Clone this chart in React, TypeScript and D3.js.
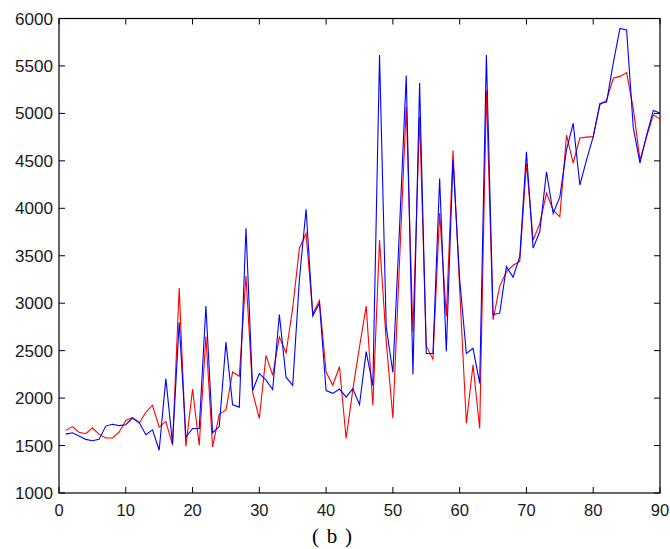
import React from "react";
import * as d3 from "d3";

const xValues: number[] = Array.from({ length: 90 }, (_, i) => i + 1);

const redSeries: number[] = [
  1660, 1700, 1640, 1625, 1685, 1620, 1580, 1580, 1640, 1765,
  1795, 1735, 1850, 1925, 1695, 1755, 1505, 3160, 1490, 2095,
  1500, 2650, 1485, 1830, 1875, 2275, 2230, 3290, 2060, 1785,
  2450, 2240, 2645, 2475, 2950, 3580, 3735, 2890, 3030, 2275,
  2135, 2330, 1575, 2090, 2540, 2970, 1925, 3665, 2600, 1787,
  3450, 5070, 2700, 4965, 2550, 2410, 3950, 2860, 4610, 3150,
  1735, 2350, 1680, 5245, 2825, 3180, 3330, 3400, 3440, 4475,
  3665, 3840, 4160, 3980, 3910, 4770, 4475, 4740, 4750, 4755,
  5090, 5140, 5370, 5390, 5430, 5050, 4510, 4755, 4985, 4940,
];

const blueSeries: number[] = [
  1620, 1635, 1600, 1565, 1550, 1565, 1705, 1725, 1710, 1720,
  1790, 1745, 1615, 1665, 1450, 2205, 1520, 2800, 1590, 1680,
  1680, 2970, 1635, 1700, 2590, 1930, 1905, 3790, 2080, 2260,
  2190, 2090, 2880, 2220, 2135, 3250, 3990, 2865, 3000, 2080,
  2050, 2095, 2010, 2100, 1930, 2490, 2130, 5615, 2750, 2270,
  3800, 5400, 2250, 5320, 2470, 2470, 4315, 2490, 4510, 3250,
  2470, 2525, 2155, 5615, 2880, 2895, 3385, 3275, 3490, 4595,
  3580, 3755, 4385, 3945, 4120, 4615, 4895, 4245, 4510, 4755,
  5105, 5120, 5530, 5895, 5880, 4850, 4475, 4770, 5030, 5005,
];

const xTicks: number[] = [0, 10, 20, 30, 40, 50, 60, 70, 80, 90];
const yTicks: number[] = [1000, 1500, 2000, 2500, 3000, 3500, 4000, 4500, 5000, 5500, 6000];
const caption = "( b )";

const W = 670;
const H = 549;
const left = 59;
const right = 660;
const top = 18.5;
const bottom = 493;
const tickLen = 6;

export default function App() {
  const x = d3.scaleLinear().domain([0, 90]).range([left, right]);
  const y = d3.scaleLinear().domain([1000, 6000]).range([bottom, top]);

  const line = d3
    .line<number>()
    .x((_, i) => x(xValues[i]))
    .y((d) => y(d));

  const font = "'Liberation Sans', Arial, sans-serif";

  return (
    <svg
      width={W}
      height={H}
      viewBox={`0 0 ${W} ${H}`}
      style={{ position: "absolute", left: 0, top: 0, background: "#ffffff" }}
    >
      <rect x={0} y={0} width={W} height={H} fill="#ffffff" />
      <path d={line(redSeries) || ""} fill="none" stroke="#ff0000" strokeWidth={1.1} />
      <path d={line(blueSeries) || ""} fill="none" stroke="#0000ff" strokeWidth={1.1} />

      {/* box */}
      <rect
        x={left}
        y={top}
        width={right - left}
        height={bottom - top}
        fill="none"
        stroke="#000"
        strokeWidth={1.2}
      />

      {/* x ticks */}
      {xTicks.map((t) => (
        <g key={"xt" + t}>
          <line x1={x(t)} x2={x(t)} y1={bottom} y2={bottom - tickLen} stroke="#000" strokeWidth={1} />
          <line x1={x(t)} x2={x(t)} y1={top} y2={top + tickLen} stroke="#000" strokeWidth={1} />
          <text
            x={x(t)}
            y={515.5}
            textAnchor="middle"
            fontFamily={font}
            fontSize={16.5}
            fill="#1a1a1a"
          >
            {t}
          </text>
        </g>
      ))}

      {/* y ticks */}
      {yTicks.map((t) => (
        <g key={"yt" + t}>
          <line x1={left} x2={left + tickLen} y1={y(t)} y2={y(t)} stroke="#000" strokeWidth={1} />
          <line x1={right} x2={right - tickLen} y1={y(t)} y2={y(t)} stroke="#000" strokeWidth={1} />
          <text
            x={53}
            y={y(t) + 6}
            textAnchor="end"
            fontFamily={font}
            fontSize={16.5}
            fill="#1a1a1a"
            textLength={38}
            lengthAdjust="spacingAndGlyphs"
          >
            {t}
          </text>
        </g>
      ))}

      <text
        x={332}
        y={543}
        textAnchor="middle"
        fontFamily="'Liberation Serif', 'Times New Roman', serif"
        fontSize={21}
        fill="#000"
        textLength={40}
        lengthAdjust="spacing"
      >
        {caption}
      </text>
    </svg>
  );
}
